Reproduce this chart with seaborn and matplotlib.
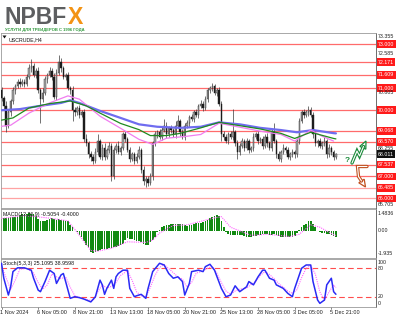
import numpy as np
import matplotlib
matplotlib.use("Agg")
import matplotlib.pyplot as plt
import seaborn as sns
from matplotlib.patches import Polygon
from matplotlib.lines import Line2D

# ---------------- data ----------------
first_open = 70.9
closes = [
    70.55, 70.2, 69.3, 69.9, 70.4, 70.9, 71.1, 71.3, 71.2, 71.3,
    71.2, 71.5, 71.9, 72.0, 71.6, 71.8, 70.9, 70.5, 70.8, 71.4,
    71.6, 71.8, 71.5, 70.6, 71.7, 72.2, 71.9, 71.5, 71.6, 71.0,
    70.9, 70.0, 69.9, 70.1, 69.8, 69.9, 68.7, 68.5, 68.0, 67.9,
    67.7, 68.1, 68.6, 67.9, 68.3, 67.9, 68.2, 68.4, 67.0, 68.2,
    68.4, 68.1, 68.3, 68.9, 68.7, 68.2, 67.8, 68.0, 67.7, 67.9,
    68.2, 67.3, 66.8, 66.9, 66.7, 67.0, 68.5, 68.9, 69.0, 68.8,
    69.1, 69.3, 68.9, 69.2, 69.1, 68.9, 69.3, 69.5, 69.0, 68.8,
    69.3, 69.4, 69.7, 69.6, 69.9, 69.8, 70.2, 70.3, 70.1, 70.5,
    70.9, 71.0, 71.1, 70.8, 70.9, 70.3, 68.9, 68.8, 68.6, 68.9,
    68.8, 69.0, 68.5, 68.1, 68.4, 68.6, 68.3, 68.6, 68.2, 68.3,
    68.8, 68.9, 68.6, 68.7, 68.4, 68.8, 68.5, 68.3, 69.0, 68.6,
    68.0, 67.8, 68.1, 68.3, 68.2, 67.9, 68.0, 68.1, 68.0, 68.6,
    69.5, 69.9, 69.8, 69.9, 70.0, 69.8, 68.9, 68.5, 68.6, 68.4,
    68.5, 68.6, 68.0, 68.3, 68.1, 67.9, 68.011]
wick_up = [
    0.15, 0.10, 0.20, 0.15, 0.10, 0.15, 0.10, 0.12, 0.15, 0.10,
    0.10, 0.15, 0.20, 0.30, 0.15, 0.10, 0.15, 0.10, 0.20, 0.15,
    0.10, 0.15, 0.10, 0.20, 0.15, 0.30, 0.15, 0.10, 0.10, 0.15,
    0.10, 0.20, 0.15, 0.10, 0.15, 0.10, 0.15, 0.20, 0.10, 0.15,
    0.10, 0.20, 0.30, 0.10, 0.15, 0.20, 0.10, 0.15, 0.10, 0.15,
    0.10, 0.20, 0.10, 0.10, 0.15, 0.10, 0.15, 0.10, 0.10, 0.15,
    0.20, 0.10, 0.15, 0.10, 0.10, 0.15, 0.10, 0.15, 0.10, 0.15,
    0.20, 0.30, 0.15, 0.10, 0.15, 0.10, 0.20, 0.30, 0.10, 0.15,
    0.10, 0.15, 0.10, 0.15, 0.10, 0.15, 0.10, 0.15, 0.10, 0.15,
    0.10, 0.10, 0.15, 0.10, 0.10, 0.15, 0.10, 0.15, 0.10, 0.10,
    0.15, 1.05, 0.10, 0.15, 0.10, 0.15, 0.10, 0.15, 0.10, 0.10,
    0.15, 0.10, 0.15, 0.10, 0.15, 0.10, 0.15, 0.10, 0.15, 0.40,
    0.10, 0.15, 0.10, 0.15, 0.10, 0.15, 0.10, 0.15, 0.10, 0.15,
    0.15, 0.10, 0.15, 0.10, 0.20, 0.15, 0.10, 0.15, 0.10, 0.15,
    0.10, 0.20, 0.10, 0.15, 0.10, 0.10, 0.05]
wick_dn = [
    0.15, 0.15, 0.30, 0.10, 0.15, 0.10, 0.15, 0.10, 0.15, 0.10,
    0.15, 0.10, 0.10, 0.15, 0.10, 0.15, 0.10, 1.10, 0.15, 0.10,
    0.15, 0.10, 0.15, 0.10, 0.15, 0.10, 0.15, 0.10, 0.15, 0.10,
    0.15, 0.50, 0.15, 0.10, 0.15, 0.10, 0.15, 0.10, 0.15, 0.20,
    0.15, 0.10, 0.15, 0.10, 0.15, 0.15, 0.10, 0.15, 0.20, 0.10,
    0.15, 0.10, 0.15, 0.10, 0.15, 0.10, 0.15, 0.10, 0.15, 0.10,
    0.10, 0.15, 0.20, 0.30, 0.15, 0.10, 0.15, 0.10, 0.15, 0.10,
    0.15, 0.10, 0.15, 0.10, 0.15, 0.10, 0.15, 0.10, 0.15, 0.10,
    0.15, 0.10, 0.15, 0.10, 0.15, 0.10, 0.15, 0.10, 0.15, 0.10,
    0.15, 0.10, 0.15, 0.10, 0.15, 0.10, 0.30, 0.15, 0.10, 0.15,
    0.10, 0.15, 0.10, 0.30, 0.15, 0.10, 0.15, 0.10, 0.15, 0.10,
    0.15, 0.10, 0.15, 0.10, 0.15, 0.10, 0.15, 0.10, 0.15, 0.10,
    0.15, 0.10, 0.15, 0.10, 0.15, 0.10, 0.15, 0.10, 0.15, 0.10,
    0.15, 0.10, 0.15, 0.10, 0.15, 0.10, 0.15, 0.10, 0.15, 0.10,
    0.15, 0.10, 0.15, 0.10, 0.15, 0.15, 0.10]

ma_blue_idx = [0, 8, 17, 26, 30, 34, 43, 52, 60, 68, 78, 87, 95, 104, 113, 122, 129, 136, 145, 146]
ma_blue = [70.0, 70.05, 70.2, 70.33, 70.45, 70.33, 69.97, 69.65, 69.36, 69.25,
           69.2, 69.25, 69.45, 69.36, 69.2, 69.1, 69.0, 69.1, 68.96, 68.95]
ma_green_idx = [0, 5, 12, 21, 30, 37, 43, 52, 60, 65, 72, 78, 87, 95, 104, 113, 122, 128, 135, 145, 146]
ma_green = [69.55, 69.65, 70.1, 70.3, 70.42, 70.2, 69.87, 69.4, 69.12, 68.85, 68.85,
            68.95, 69.2, 69.45, 69.3, 69.15, 68.95, 68.72, 69.0, 68.72, 68.7]
ma_pink_idx = [0, 4, 12, 21, 29, 34, 43, 52, 60, 66, 72, 81, 87, 95, 104, 113, 122, 128, 135, 140, 145]
ma_pink = [69.27, 69.32, 69.87, 70.33, 70.65, 70.5, 69.73, 69.18, 68.68, 68.45, 68.73,
           68.82, 68.9, 69.41, 69.23, 69.05, 68.9, 68.6, 69.1, 68.82, 68.6]

level_lines = [73.000, 72.171, 71.609, 71.000, 70.000, 69.068, 68.570, 67.537, 67.000, 66.485, 66.000]
plain_ticks = [73.355, 72.585, 70.805, 68.255, 65.705]
current_price = 68.011

macd_hist = [
    1.00, 1.05, 1.10, 1.10, 1.15, 1.20, 1.20, 1.25, 1.35, 1.40,
    1.40, 1.45, 1.48, 1.45, 1.40, 1.30, 1.00, 0.80, 0.80, 0.85,
    0.90, 1.00, 1.05, 1.00, 0.95, 1.00, 0.95, 0.90, 0.80, 0.80,
    0.50, 0.30, 0.00, -0.15, -0.40, -0.55, -0.90, -1.20, -1.50, -1.80,
    -1.93, -1.80, -1.70, -1.65, -1.60, -1.60, -1.55, -1.50, -1.45, -1.40,
    -1.40, -1.30, -1.25, -1.10, -0.80, -0.60, -0.70, -0.75, -0.80, -0.85,
    -0.90, -1.00, -1.10, -1.25, -1.25, -1.00, -0.80, -0.50, -0.15, 0.10,
    0.30, 0.40, 0.45, 0.50, 0.55, 0.60, 0.60, 0.60, 0.60, 0.55,
    0.45, 0.40, 0.45, 0.50, 0.60, 0.65, 0.70, 0.70, 0.75, 0.80,
    0.95, 1.05, 1.15, 1.30, 1.35, 1.30, 0.80, 0.30, -0.15, -0.30,
    -0.35, -0.35, -0.35, -0.35, -0.35, -0.40, -0.45, -0.50, -0.50, -0.50,
    -0.45, -0.45, -0.40, -0.35, -0.30, -0.30, -0.30, -0.35, -0.35, -0.30,
    -0.40, -0.45, -0.50, -0.50, -0.55, -0.55, -0.50, -0.55, -0.45, -0.20,
    0.05, 0.30, 0.50, 0.60, 0.80, 0.85, 0.60, 0.30, 0.00, -0.10,
    -0.20, -0.20, -0.30, -0.30, -0.35, -0.45, -0.5054]
macd_sig_idx = [0, 10, 20, 29, 33, 39, 42, 48, 55, 63, 66, 69, 75, 81, 93, 96, 100, 109, 116, 126, 130, 135, 139, 145, 146]
macd_sig = [1.05, 1.30, 1.10, 0.85, -0.14, -1.69, -1.75, -1.50, -0.95, -1.00, -0.80, -0.20,
            0.45, 0.50, 1.10, 1.20, 0.30, -0.40, -0.30, -0.50, -0.30, 0.50, 0.30, -0.35, -0.40]
macd_ticks = [1.4836, 0.0, -1.935]
macd_tick_labels = ["1.4836", "0.00", "-1.935"]

stoch_k_idx = [0, 1, 3, 4, 5, 7, 10, 13, 14, 16, 17, 19, 21, 23, 24, 26, 27, 28, 30, 32,
               34, 36, 39, 41, 43, 44, 45, 46, 48, 49, 50, 51, 53, 55, 56, 58, 59, 61, 63, 64,
               66, 69, 71, 73, 75, 77, 79, 80, 82, 83, 86, 88, 89, 91, 93, 96, 98, 100, 102, 104,
               107, 108, 110, 112, 114, 115, 117, 119, 120, 123, 125, 127, 128, 131, 133, 135, 136, 138, 139, 141,
               142, 144, 145, 146]
stoch_k = [90.6, 59, 23.5, 41, 73, 81, 81, 76, 59, 34, 30.6, 52, 76, 69, 48, 66, 69, 52, 16.5, 20,
           18, 15, 9, 20, 55, 45, 25, 37.6, 55, 37.6, 62, 69, 76, 76, 37.6, 20, 22, 25, 16.5, 37.6,
           73, 90.6, 87, 69, 59, 62, 52, 23.5, 48, 73, 76, 73, 83.5, 88.5, 76, 37.6, 20, 23.5, 43, 30.6,
           41, 52, 45, 62, 76, 76, 59, 55, 45, 37.6, 27, 20, 37.6, 80, 87, 87, 52, 13, 6, 13,
           45, 59, 30.6, 25.1095]
stoch_d_idx = [0, 2, 4, 6, 8, 11, 14, 16, 18, 20, 22, 24, 26, 28, 30, 32, 35, 38, 40, 42,
               44, 46, 48, 50, 52, 55, 57, 59, 61, 63, 65, 67, 69, 71, 74, 77, 79, 81, 83, 85,
               88, 90, 92, 94, 96, 98, 100, 102, 104, 107, 109, 111, 113, 115, 117, 119, 121, 123, 125, 127,
               129, 131, 133, 135, 137, 139, 141, 143, 145, 146]
stoch_d = [85, 60, 35, 55, 78, 80, 70, 50, 36, 45, 68, 62, 58, 62, 40, 22, 17, 13, 12, 30,
           45, 38, 42, 50, 65, 75, 55, 30, 22, 20, 40, 65, 82, 88, 75, 62, 57, 40, 50, 70,
           74, 80, 84, 70, 50, 32, 25, 32, 36, 38, 46, 52, 65, 73, 67, 58, 48, 40, 32, 27,
           35, 60, 80, 86, 68, 30, 12, 30, 45, 38.9598]
stoch_levels = [80, 20]
stoch_ticks = [100, 80, 20, 0]

date_idx = [0, 16, 32, 48, 64, 80, 96, 112, 128, 144]
date_labels = ["1 Nov 2024", "6 Nov 05:00", "8 Nov 21:00", "13 Nov 13:00", "18 Nov 05:00",
               "20 Nov 21:00", "25 Nov 13:00", "28 Nov 05:00", "3 Dec 05:00", "5 Dec 21:00"]

# ---------------- figure ----------------
sns.set_style("white")
plt.rcParams['font.family'] = ['Liberation Sans', 'DejaVu Sans']

W, H = 400, 317
fig = plt.figure(figsize=(4, 3.17), dpi=100)


def rect(x0, y0, x1, y1):
    return [x0 / W, 1 - y1 / H, (x1 - x0) / W, (y1 - y0) / H]


ax = fig.add_axes(rect(0.5, 33, 376, 207.5))
axm = fig.add_axes(rect(0.5, 208.5, 376, 257.5))
axs = fig.add_axes(rect(0.5, 258.5, 376, 307))

XL = (-0.44, 163.5)
for a in (ax, axm, axs):
    a.set_xlim(*XL)
    a.set_xticks([])
    a.set_yticks([])
    for s in a.spines.values():
        s.set_color('#9a9a9a')
        s.set_linewidth(0.6)
    a.spines['right'].set_color('#555555')

ax.set_ylim(65.59, 73.50)
axm.set_ylim(-2.29, 1.90)
axs.set_ylim(-1.76, 100.7)

FS = 3.8
lx = (378 - 0.5) / 375.5

# ---- main panel ----
n = len(closes)
idx = np.arange(n)
c = np.array(closes)
o = np.array([first_open] + closes[:-1])
hi = np.maximum(o, c) + np.array(wick_up)
lo = np.minimum(o, c) - np.array(wick_dn)

for lv in level_lines:
    col = '#ffa3a3' if lv < 66.6 else '#ff6b6b'
    ax.axhline(lv, color=col, lw=0.9, zorder=1)
ax.axhline(current_price, color='#cfcfcf', lw=0.7, zorder=1)

ax.vlines(idx, lo, hi, color='#3a3a3a', lw=0.5, zorder=3)
bh = np.maximum(np.abs(c - o), 0.03)
bb = np.minimum(o, c)
up = c >= o
ax.bar(idx[up], bh[up], bottom=bb[up], width=0.62, color='#a9a9a9',
       edgecolor='#2b2b2b', linewidth=0.3, zorder=4)
ax.bar(idx[~up], bh[~up], bottom=bb[~up], width=0.62, color='#1c1c1c',
       edgecolor='#1c1c1c', linewidth=0.3, zorder=4)

sns.lineplot(x=ma_blue_idx, y=ma_blue, ax=ax, color='#6f6cf0', lw=1.6, zorder=5)
sns.lineplot(x=ma_green_idx, y=ma_green, ax=ax, color='#1f8a1f', lw=0.9, zorder=6)
sns.lineplot(x=ma_pink_idx, y=ma_pink, ax=ax, color='#f07cf0', lw=0.9, zorder=5)

ty = ax.get_yaxis_transform()
for lv in level_lines:
    ax.text(lx, lv, f"{lv:.3f}", transform=ty, fontsize=FS, color='white', va='center', ha='left',
            bbox=dict(boxstyle='square,pad=0.25', fc='#ff1a1a', ec='none'), clip_on=False)
for lv in plain_ticks:
    ax.text(lx, lv, f"{lv:.3f}", transform=ty, fontsize=FS, color='#222222', va='center', ha='left',
            clip_on=False)
ax.text(lx, current_price, f"{current_price:.3f}", transform=ty, fontsize=FS, color='white',
        va='center', ha='left', bbox=dict(boxstyle='square,pad=0.25', fc='#111111', ec='none'),
        clip_on=False)
ax.text(0.022, 0.975, "USCRUDE,H4", transform=ax.transAxes, fontsize=FS, color='#111111',
        va='top', ha='left')

# ---- MACD panel ----
axm.bar(idx, macd_hist, width=0.72, color='#118a11', linewidth=0, zorder=2)
sns.lineplot(x=macd_sig_idx, y=macd_sig, ax=axm, color='#ff5cff', lw=0.8, linestyle=(0, (1, 1)), zorder=3)
tm = axm.get_yaxis_transform()
for v, t in zip(macd_ticks, macd_tick_labels):
    axm.text(lx, v, t, transform=tm, fontsize=FS, color='#222222', va='center', ha='left', clip_on=False)
axm.text(0.006, 0.93, "MACD(12,26,9) -0.5054 -0.4000", transform=axm.transAxes, fontsize=FS,
         color='#111111', va='top', ha='left', zorder=5)

# ---- Stochastic panel ----
for lv in stoch_levels:
    axs.axhline(lv, color='#ff4d4d', lw=0.8, ls=(0, (5, 3)), zorder=1)
sns.lineplot(x=stoch_d_idx, y=stoch_d, ax=axs, color='#ff66ff', lw=0.8, linestyle=(0, (1, 1)), zorder=2)
sns.lineplot(x=stoch_k_idx, y=stoch_k, ax=axs, color='#2a2af5', lw=1.1, zorder=3)
ts = axs.get_yaxis_transform()
for v in stoch_ticks:
    yy = v - 8 if v == 100 else (v + 6 if v == 0 else v)
    axs.text(lx, yy, str(v), transform=ts, fontsize=FS, color='#222222', va='center', ha='left', clip_on=False)
axs.text(0.006, 0.95, "Stoch(5,3,3) 25.1095 38.9598", transform=axs.transAxes, fontsize=FS,
         color='#111111', va='top', ha='left', zorder=5)

# date labels
tx = axs.get_xaxis_transform()
for i, lab in zip(date_idx, date_labels):
    axs.text(i - 0.6, -0.06, lab, transform=tx, fontsize=4.0, color='#222222', va='top', ha='left',
             clip_on=False)
    axs.plot([i, i], [0, -0.04], transform=tx, color='#555555', lw=0.5, clip_on=False)

# ---- header / decorations (pixel overlay) ----
ov = fig.add_axes([0, 0, 1, 1], zorder=10)
ov.set_xlim(0, W)
ov.set_ylim(H, 0)
ov.axis('off')
ov.patch.set_alpha(0)

ov.text(4.5, 23.5, "NPBF", fontsize=16.6, fontweight='bold', color='#5d5e60', va='baseline', ha='left')
ov.text(68, 23.5, "X", fontsize=16.6, fontweight='bold', color='#f39314', va='baseline', ha='left')
ov.text(5, 31.2, "УСЛУГИ ДЛЯ ТРЕЙДЕРОВ С 1996 ГОДА", fontsize=3.0, fontweight='bold',
        color='#2f9a3c', va='baseline', ha='left')
ov.add_patch(Polygon([(2.5, 35.5), (6.5, 35.5), (4.5, 38.5)], closed=True, fc='#111111', ec='none'))

# green up arrow with question mark
g = '#1a8a3a'
gpts = [(352, 163), (357, 151), (359.5, 156), (363.5, 146.5)]
ov.add_line(Line2D([p[0] for p in gpts], [p[1] for p in gpts], color=g, lw=2.4, solid_joinstyle='miter'))
ov.add_line(Line2D([p[0] for p in gpts], [p[1] for p in gpts], color='white', lw=0.8))
ov.add_patch(Polygon([(366, 141), (365.8, 149.2), (359.8, 146.4)], closed=True, fc='white', ec=g, lw=0.9))
ov.text(347.5, 162, "?", fontsize=6, fontweight='bold', color=g, ha='center', va='baseline')

# brown down arrow
b = '#c0501f'
bpts = [(367, 166.5), (357.5, 166.5), (358.5, 176.5), (361.5, 181)]
ov.add_line(Line2D([p[0] for p in bpts], [p[1] for p in bpts], color=b, lw=2.4, solid_joinstyle='miter'))
ov.add_line(Line2D([p[0] for p in bpts], [p[1] for p in bpts], color='white', lw=0.8))
ov.add_patch(Polygon([(365.5, 187), (364.2, 179.2), (358.8, 182.8)], closed=True, fc='white', ec=b, lw=0.9))

fig.savefig("out.png", dpi=100)
